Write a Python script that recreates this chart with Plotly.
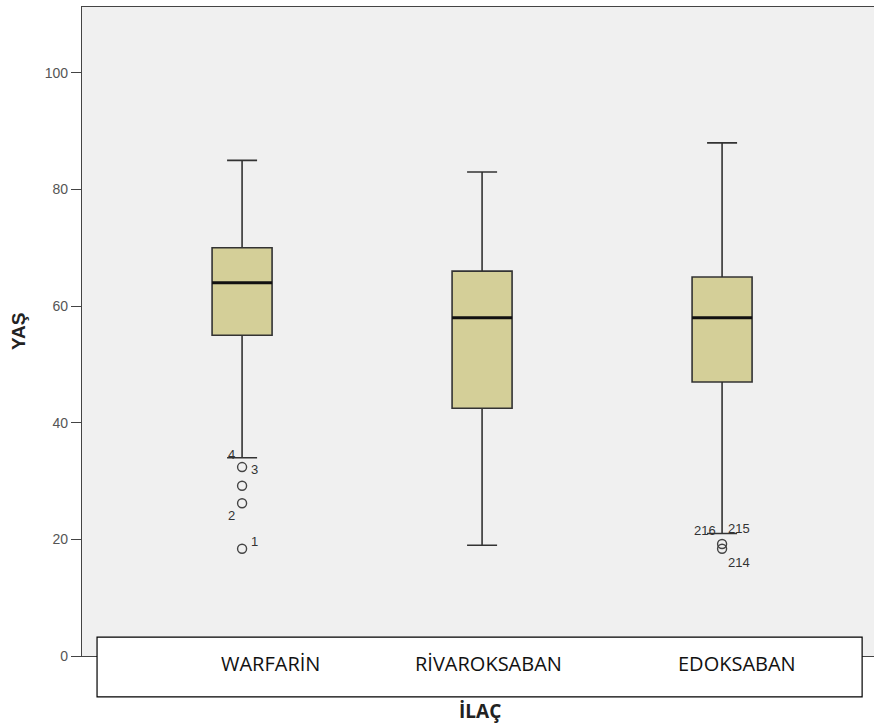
import plotly.graph_objects as go

categories = ["WARFARİN", "RİVAROKSABAN", "EDOKSABAN"]
q1 = [55, 42.5, 47]
median = [64, 58, 58]
q3 = [70, 66, 65]
lower_whisker = [34, 19, 21]
upper_whisker = [85, 83, 88]

# outliers: (category index, value)
outlier_cat = [0, 0, 0, 0, 2, 2]
outlier_val = [32.4, 29.2, 26.2, 18.4, 19.2, 18.4]

# case labels: (category index, value, text, xshift, yshift)
case_labels = [
    (0, 34, "4", -11, 3),
    (0, 32.4, "3", 12, -2),
    (0, 26.2, "2", -11, -12),
    (0, 18.4, "1", 12, 7),
    (2, 21, "216", -17, 3),
    (2, 21, "215", 17, 5),
    (2, 18.4, "214", 17, -14),
]

xpos = [i + 1 for i in range(len(categories))]
box_w = 0.25
fill = "#D4CF98"
edge = "#333333"
sans = "Liberation Sans, Arial, sans-serif"
narrow = "Open Sans, Lato"

fig = go.Figure()
fig.add_trace(go.Box(
    x=xpos, q1=q1, median=median, q3=q3,
    lowerfence=lower_whisker, upperfence=upper_whisker,
    width=box_w, whiskerwidth=0.5,
    fillcolor=fill, line=dict(color=edge, width=1.6),
    boxpoints=False, showlegend=False, hoverinfo="skip",
))
# thick median lines
for xp, m in zip(xpos, median):
    fig.add_trace(go.Scatter(
        x=[xp - box_w / 2, xp + box_w / 2], y=[m, m], mode="lines",
        line=dict(color="#111111", width=3), showlegend=False, hoverinfo="skip",
    ))
fig.add_trace(go.Scatter(
    x=[xpos[c] for c in outlier_cat], y=outlier_val, mode="markers",
    marker=dict(symbol="circle-open", size=9, color="#444444", line=dict(width=1.4)),
    showlegend=False, hoverinfo="skip",
))

for c, v, t, xs, ys in case_labels:
    fig.add_annotation(x=xpos[c], y=v, text=t, showarrow=False, xshift=xs, yshift=ys,
                       font=dict(family=sans, size=13, color="#333333"))

# label box at bottom
fig.add_shape(type="rect", xref="paper", yref="paper",
              x0=0.019, x1=0.985, y0=-0.063, y1=0.029,
              fillcolor="white", line=dict(color="black", width=1.2), layer="above")
label_shift = [28, 6, 15]
for xp, cat, sh in zip(xpos, categories, label_shift):
    fig.add_annotation(x=xp, y=-(663 - 656) / 649, yref="paper", yanchor="middle", text=cat,
                       showarrow=False, xshift=sh,
                       font=dict(family=narrow, size=20, color="#111111"))

fig.update_layout(
    width=874, height=726,
    margin=dict(l=82, r=0, t=7, b=70),
    paper_bgcolor="white", plot_bgcolor="#F0F0F0",
    xaxis=dict(range=[0.333, 3.633], showticklabels=False, ticks="", showgrid=False,
               zeroline=False, showline=True, mirror=True, linecolor="#444444", linewidth=1.2),
    yaxis=dict(range=[0, 111.3], tickvals=[0, 20, 40, 60, 80, 100], ticks="outside", ticklen=10,
               tickcolor="#444444", tickwidth=1.2, showgrid=False, zeroline=False,
               showline=True, linecolor="#444444", linewidth=1.2,
               tickfont=dict(family=sans, size=14, color="#555555")),
)
fig.add_annotation(xref="paper", yref="paper", x=(18 - 82) / 792, y=(656 - 332) / 649,
                   xanchor="center", yanchor="middle", text="<b>YAŞ</b>",
                   textangle=-90, showarrow=False,
                   font=dict(family=sans, size=19, color="#222222"))
fig.add_annotation(xref="paper", yref="paper", x=(480 - 82) / 792, y=-(711 - 656) / 649,
                   xanchor="center", yanchor="middle", text="<b>İLAÇ</b>",
                   showarrow=False,
                   font=dict(family=narrow, size=19, color="#222222"))

fig.write_html("out.html", config={"displayModeBar": False},
               post_script="document.body.style.margin='0';document.body.style.overflow='hidden';")
